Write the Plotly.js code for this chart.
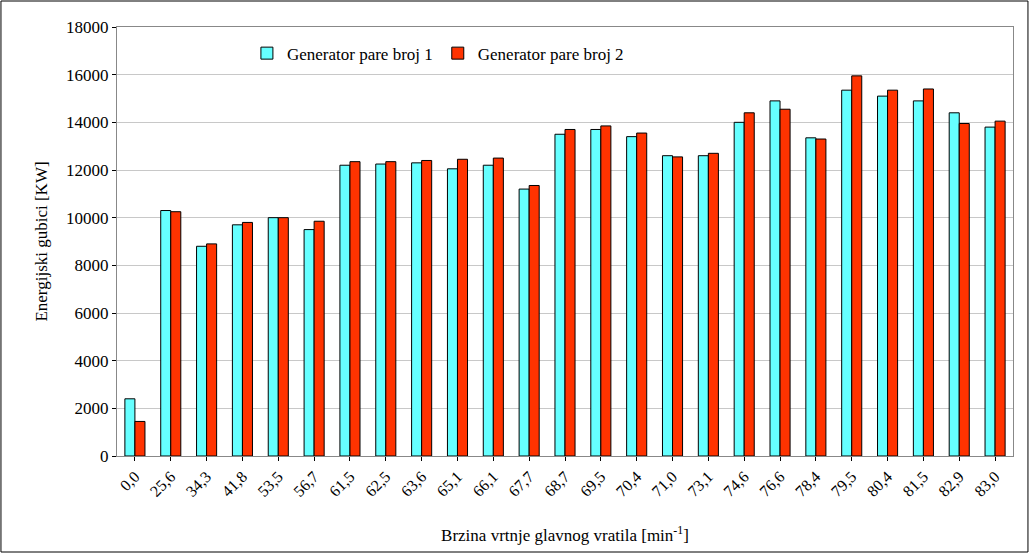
<html><head><script src="https://cdn.plot.ly/plotly-3.0.1.min.js"></script></head><body style="margin:0">
<div id="c" style="width:1029px;height:553px"></div>
<script>
const categories=["0,0","25,6","34,3","41,8","53,5","56,7","61,5","62,5","63,6","65,1","66,1","67,7","68,7","69,5","70,4","71,0","73,1","74,6","76,6","78,4","79,5","80,4","81,5","82,9","83,0"];
const gen1=[2400,10300,8800,9700,10000,9500,12200,12250,12300,12050,12200,11200,13500,13700,13400,12600,12600,14000,14900,13350,15350,15100,14900,14400,13800];
const gen2=[1450,10250,8900,9800,10000,9850,12350,12350,12400,12450,12500,11350,13700,13850,13550,12550,12700,14400,14550,13300,15950,15350,15400,13950,14050];
const names=["Generator pare broj 1","Generator pare broj 2"];
const tr=[{type:'bar',x:categories,y:gen1,name:names[0],marker:{color:'#66FFFF',line:{color:'#000',width:1}}},
{type:'bar',x:categories,y:gen2,name:names[1],marker:{color:'#FF3300',line:{color:'#000',width:1}}}];
Plotly.newPlot('c',tr,{width:1029,height:553,margin:{l:117,r:16,t:27,b:97},
font:{family:'"Times New Roman", "Liberation Serif", "DejaVu Serif", serif',size:17,color:'#000'},
paper_bgcolor:'#fff',plot_bgcolor:'#fff',bargap:0.44,bargroupgap:0,
legend:{orientation:'h',x:0.145,y:0.98,xanchor:'left',yanchor:'top',font:{size:17},bgcolor:'rgba(0,0,0,0)',itemwidth:30,tracegroupgap:0},
xaxis:{type:'category',tickangle:-45,showline:true,linecolor:'#888',mirror:true,ticks:'outside',ticklen:4,tickcolor:'#000',tickfont:{size:16},
title:{text:'Brzina vrtnje glavnog vratila [min<sup>-1</sup>]',font:{size:17},standoff:30}},
yaxis:{range:[0,18000],dtick:2000,tickformat:'d',showgrid:true,gridcolor:'#c8c8c8',showline:true,linecolor:'#888',mirror:true,ticks:'outside',ticklen:4,tickcolor:'#000',tickfont:{size:17},
title:{text:'Energijski gubici [KW]',font:{size:17},standoff:14}},
shapes:[{type:'rect',xref:'paper',yref:'paper',x0:-0.1295,x1:1.0167,y0:-0.2238,y1:1.0606,line:{color:'#000',width:1}}]
},{displayModeBar:false});
</script></body></html>
